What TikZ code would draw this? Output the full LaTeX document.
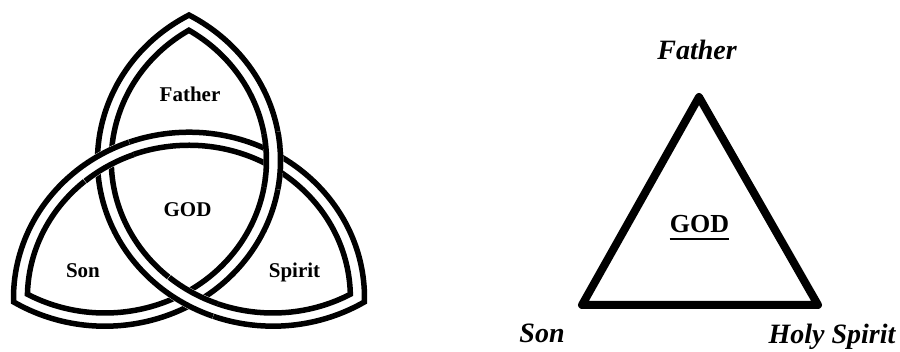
\documentclass[tikz,border=0pt]{standalone}
\usepackage{fontspec}
\setmainfont{Liberation Serif}
\begin{document}
\begin{tikzpicture}[x=1pt,y=1pt,
  bandline/.style={line width=5.5pt, line join=miter, miter limit=20},
  bandcover/.style={white, line width=19.6pt},
  leftlabel/.style={inner sep=0pt, anchor=base, font=\fontsize{21}{24}\selectfont\bfseries},
  rightlabel/.style={inner sep=0pt, anchor=base, font=\fontsize{28}{32}\selectfont\bfseries\itshape},
  tri/.style={line width=8pt, line join=round}]
\useasboundingbox (0,0) rectangle (900,351);
\fill[white] (0,0) rectangle (900,351);
% ---------- left: interlaced triquetra ----------
\begin{scope}[shift={(189,144.7)}, yscale=0.944]
  \coordinate (PA) at (30:97);
  \coordinate (PB) at (270:97);
  \coordinate (PC) at (150:97);
  % outer line (radius R+h), started mid-arc so that every tip is a real join
  \draw[bandline] (PC) ++(395:175.5) arc[start angle=395, end angle=421.4, radius=175.5]
                  arc[start angle=118.6, end angle=301.4, radius=175.5]
                  arc[start angle=-1.4, end angle=181.4, radius=175.5]
                  arc[start angle=238.6, end angle=397, radius=175.5];
  % inner line (radius R-h)
  \draw[bandline] (PC) ++(395:161.5) arc[start angle=395, end angle=418.7, radius=161.5]
                  arc[start angle=121.3, end angle=298.7, radius=161.5]
                  arc[start angle=1.3, end angle=178.7, radius=161.5]
                  arc[start angle=241.3, end angle=397, radius=161.5];
  % crossings: B over A (at PC), C over B (at PA), A over C (at PB)
  \foreach \cen/\ang in {PB/120, PC/0, PA/240} {
    \draw[bandcover] (\cen) ++(\ang-10:168.5) arc[start angle=\ang-10, end angle=\ang+10, radius=168.5];
    \draw[line width=5.5pt] (\cen) ++(\ang-10:175.5) arc[start angle=\ang-10, end angle=\ang+10, radius=175.5];
    \draw[line width=5.5pt] (\cen) ++(\ang-10:161.5) arc[start angle=\ang-10, end angle=\ang+10, radius=161.5];
  }
\end{scope}
\node[leftlabel] (father) at (190,249.5) {Father};
\node[leftlabel] (god) at (187.5,134) {GOD};
\node[leftlabel] (son) at (83,73) {Son};
\node[leftlabel] (spirit) at (294.5,73) {Spirit};
% ---------- right: triangle ----------
\coordinate (tl) at (582,46);
\coordinate (tt) at (699,254);
\coordinate (tr) at (818,46);
\draw[tri] (tl) -- (tt) -- (tr) -- cycle;
\node[rightlabel] (father2) at (697,291) {Father};
\node[inner sep=0pt, anchor=base, font=\fontsize{26}{30}\selectfont\bfseries] (god2) at (699.5,118) {GOD};
\draw[line width=2pt] ([yshift=-6pt]god2.base west) -- ([yshift=-6pt]god2.base east);
\node[rightlabel] (son2) at (542,9) {Son};
\node[rightlabel] (holy) at (832,7.5) {Holy Spirit};
\end{tikzpicture}
\end{document}
